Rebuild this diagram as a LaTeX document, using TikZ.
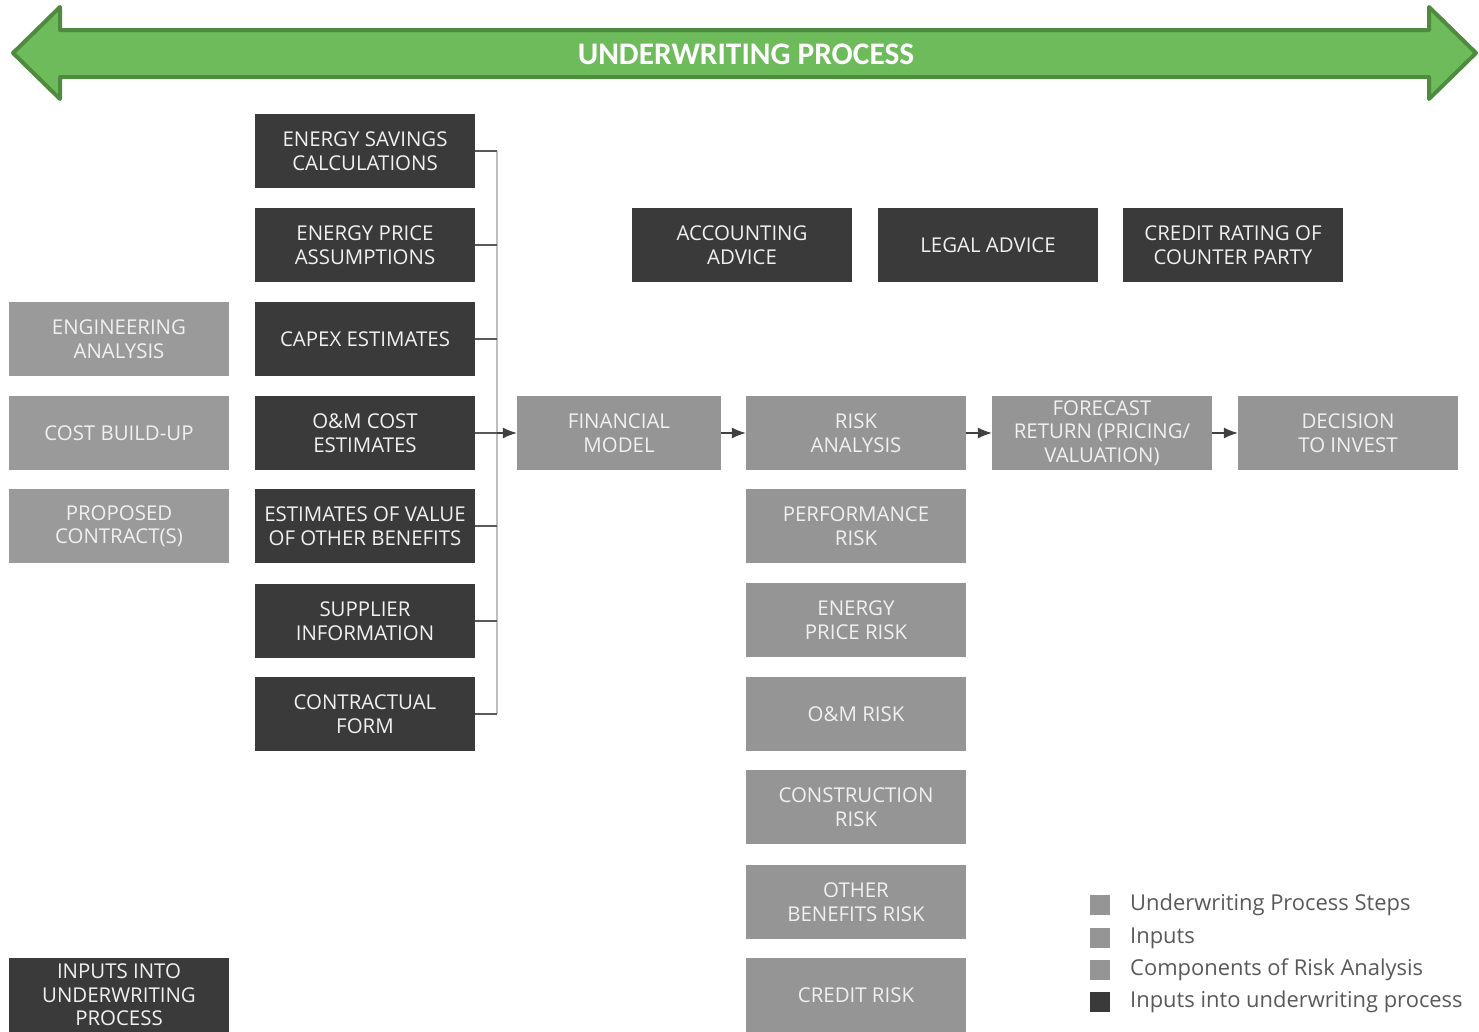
\documentclass[tikz,border=0pt]{standalone}
\usepackage{fontspec}
\setmainfont{Open Sans}
\newfontfamily\titlefont{Carlito}
\usetikzlibrary{positioning}
\usetikzlibrary{arrows.meta}

\definecolor{inputdark}{HTML}{3A3A3A}
\definecolor{stepgray}{HTML}{959595}
\definecolor{inputgray}{HTML}{9A9A9A}
\definecolor{arrowgreen}{HTML}{6DBB5B}
\definecolor{arrowedge}{HTML}{4F8B3E}

\begin{document}
\begin{tikzpicture}[x=1bp,y=-1bp]
	\tikzstyle{box} = [rectangle,minimum width=220bp,minimum height=74bp,inner sep=0pt,align=center,text=white!94!black,font=\fontsize{20.5}{23.5}\selectfont]
	\tikzstyle{dark} = [box,fill=inputdark]
	\tikzstyle{light} = [box,fill=stepgray]
	\tikzstyle{soft} = [box,fill=inputgray]
	\tikzstyle{stub} = [draw=black!65,line width=1.2bp]
	\tikzstyle{bus} = [draw=black!25,line width=1.5bp]
	\tikzstyle{flow} = [draw=black!75,line width=1.2bp,-{Latex[length=14bp,width=11bp]}]
	\tikzstyle{key} = [minimum size=20bp,inner sep=0pt]
	\tikzstyle{keytext} = [right,inner sep=0pt,text=black!65,font=\fontsize{22}{22}\selectfont]

	\clip (0,0) rectangle (1479,1031);

	% banner
	\draw[fill=arrowgreen,draw=arrowedge,line width=4bp,line join=round] (13,53) -- (60,7) -- (60,30) -- (1429,30) -- (1429,7) -- (1476,53) -- (1429,99) -- (1429,77) -- (60,77) -- (60,99) -- cycle;
	\node[text=white,font=\titlefont\bfseries\fontsize{31.5}{31.5}\selectfont] (banner) at (746,54) {UNDERWRITING PROCESS};

	% inputs
	\node[dark] (savings) at (365,151) {ENERGY SAVINGS\\CALCULATIONS};
	\node[dark] (price) at (365,245) {ENERGY PRICE\\ASSUMPTIONS};
	\node[dark] (capex) at (365,339) {CAPEX ESTIMATES};
	\node[dark] (om) at (365,433) {O\&M COST\\ESTIMATES};
	\node[dark] (benefits) at (365,526) {ESTIMATES OF VALUE\\OF OTHER BENEFITS};
	\node[dark] (supplier) at (365,621) {SUPPLIER\\INFORMATION};
	\node[dark] (contract) at (365,714) {CONTRACTUAL\\FORM};

	\node[soft] (engineering) at (119,339) {ENGINEERING\\ANALYSIS};
	\node[soft] (buildup) at (119,433) {COST BUILD-UP};
	\node[soft] (proposed) at (119,526) {PROPOSED\\CONTRACT(S)};

	\node[dark] (legendbox) at (119,995) {INPUTS INTO\\UNDERWRITING\\PROCESS};

	% advice
	\node[dark] (accounting) at (742,245) {ACCOUNTING\\ADVICE};
	\node[dark] (legal) at (988,245) {LEGAL ADVICE};
	\node[dark] (credit) at (1233,245) {CREDIT RATING OF\\COUNTER PARTY};

	% process steps
	\node[light,minimum width=204bp] (model) at (619,433) {FINANCIAL\\MODEL};
	\node[light] (risk) at (856,433) {RISK\\ANALYSIS};
	\node[light] (forecast) at (1102,433) {FORECAST\\RETURN (PRICING/\\VALUATION)};
	\node[light] (decision) at (1348,433) {DECISION\\TO INVEST};

	% risk components
	\node[light] (perf) at (856,526) {PERFORMANCE\\RISK};
	\node[light] (pricerisk) at (856,620) {ENERGY\\PRICE RISK};
	\node[light] (omrisk) at (856,714) {O\&M RISK};
	\node[light] (construction) at (856,807) {CONSTRUCTION\\RISK};
	\node[light] (otherrisk) at (856,902) {OTHER\\BENEFITS RISK};
	\node[light] (creditrisk) at (856,995) {CREDIT RISK};

	% connectors
	\coordinate (bustop) at (497,151);
	\coordinate (busbot) at (497,714);
	\coordinate (busjoin) at (497,433);
	\draw[bus] (bustop) -- (busbot);
	\foreach \n in {savings,price,capex,om,benefits,supplier,contract}
		\draw[stub] (\n.east) -- (\n.east -| bustop);
	\draw[flow] (busjoin) -- (model);
	\draw[flow] (model) -- (risk);
	\draw[flow] (risk) -- (forecast);
	\draw[flow] (forecast) -- (decision);

	% legend
	\node[key,fill=stepgray] (k1) at (1100,905) {};
	\node[key,fill=stepgray] (k2) at (1100,938) {};
	\node[key,fill=stepgray] (k3) at (1100,970) {};
	\node[key,fill=inputdark] (k4) at (1100,1002) {};
	\node[keytext] (t1) at (1130,905) {Underwriting Process Steps};
	\node[keytext] (t2) at (1130,938) {Inputs};
	\node[keytext] (t3) at (1130,970) {Components of Risk Analysis};
	\node[keytext] (t4) at (1130,1002) {Inputs into underwriting process};
\end{tikzpicture}
\end{document}
